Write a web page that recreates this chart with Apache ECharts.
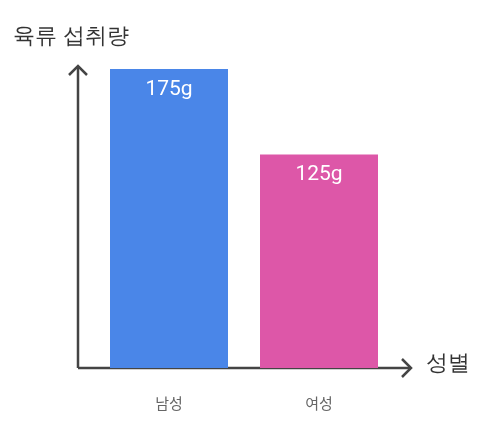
<!DOCTYPE html>
<html><head><meta charset="utf-8">
<script src="https://cdn.jsdelivr.net/npm/echarts@6/dist/echarts.min.js"></script>
<style>body{margin:0}#c{width:501px;height:441px}</style></head>
<body><div id="c"></div>
<script>
var categories = ['남성', '여성'];
var values = [175, 125];
var colors = ['#4a86e8', '#dd57a8'];

var chart = echarts.init(document.getElementById('c'));
var ink = '#444';
chart.setOption({
    backgroundColor: '#fff',
    textStyle: {fontFamily: 'Noto Sans CJK KR'},
    grid: {left: 94, right: 107, top: 69, bottom: 73},
    xAxis: {
        type: 'category', data: categories,
        axisLine: {show: false}, axisTick: {show: false},
        axisLabel: {color: '#666', fontSize: 15, margin: 28}
    },
    yAxis: {type: 'value', min: 0, max: 175, show: false},
    series: [{
        type: 'bar', barWidth: 118,
        data: values.map(function(v, i){ return {value: v, itemStyle: {color: colors[i]}}; }),
        label: {show: true, position: 'insideTop', distance: 10, color: '#fff', fontSize: 21,
            fontFamily: 'Roboto', formatter: '{c}g'}
    }],
    // 축 화살표
    graphic: [
        {type: 'polyline', shape: {points: [[78, 368], [411, 368]]}, style: {stroke: ink, lineWidth: 2.5, fill: null}},
        {type: 'polyline', shape: {points: [[78, 368], [78, 66]]}, style: {stroke: ink, lineWidth: 2.5, fill: null}},
        {type: 'polyline', shape: {points: [[402, 359], [411, 368], [402, 377]]}, style: {stroke: ink, lineWidth: 2.5, fill: null}},
        {type: 'polyline', shape: {points: [[69, 75], [78, 66], [87, 75]]}, style: {stroke: ink, lineWidth: 2.5, fill: null}},
        {type: 'text', left: 13, top: 26, style: {text: '육류 섭취량', fill: '#333', fontSize: 22, font: '22px "Noto Sans CJK KR"'}},
        {type: 'text', left: 426, top: 353, style: {text: '성별', fill: '#333', fontSize: 22, font: '22px "Noto Sans CJK KR"'}}
    ]
});
</script></body></html>
